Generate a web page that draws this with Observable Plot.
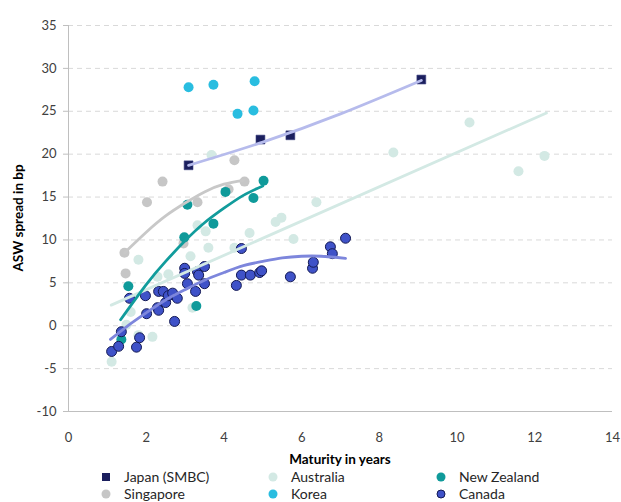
<!DOCTYPE html>
<html><head><meta charset="utf-8">
<script src="https://cdn.jsdelivr.net/npm/d3@7"></script>
<script src="https://cdn.jsdelivr.net/npm/@observablehq/plot@0.6"></script>
<style>
body{margin:0;background:#fff;font-family:Lato,sans-serif;}
#wrap{position:relative;width:621px;height:502px;overflow:hidden;}
.item{position:absolute;height:18px;line-height:18px;font-size:14px;color:#262626;white-space:nowrap;}
.item svg{position:absolute;left:0;top:4px;}
.item span{position:absolute;left:23px;top:0;}
</style></head><body>
<div id="wrap"><div id="chart"></div></div>
<script>
// ---- data ----
const seriesNames = ["Japan (SMBC)", "Singapore", "Australia", "Korea", "New Zealand", "Canada"];
const xTicks = [0, 2, 4, 6, 8, 10, 12, 14];
const yTicks = [-10, -5, 0, 5, 10, 15, 20, 25, 30, 35];

const japanX = [3.09, 4.94, 5.71, 9.08];
const japanY = [18.7, 21.7, 22.2, 28.7];

const singaporeX = [1.44, 1.47, 2.02, 2.42, 2.96, 3.32, 4.12, 4.27, 4.53];
const singaporeY = [8.5, 6.1, 14.4, 16.8, 9.6, 14.4, 15.9, 19.3, 16.8];

const australiaX = [1.11, 1.49, 1.6, 1.8, 2.16, 1.8, 2.29, 2.57, 3.14, 3.19, 3.32, 3.53, 3.6, 3.68, 4.27, 4.66, 5.33, 5.48, 5.79, 6.38, 8.36, 10.32, 11.58, 12.25];
const australiaY = [-4.2, 0.1, 1.6, -1.1, -1.3, 7.7, 5.7, 6.0, 8.1, 2.1, 11.7, 11.0, 9.1, 19.9, 9.1, 10.8, 12.1, 12.6, 10.1, 14.4, 20.2, 23.7, 18.0, 19.8];

const koreaX = [3.09, 3.73, 4.79, 4.35, 4.76];
const koreaY = [27.8, 28.1, 28.5, 24.7, 25.1];

const nzX = [1.54, 1.36, 2.98, 3.06, 3.29, 3.73, 4.04, 4.76, 5.02];
const nzY = [4.6, -1.6, 10.3, 14.1, 2.3, 11.9, 15.6, 14.9, 16.9];

const canadaX = [1.11, 1.29, 1.36, 1.75, 1.83, 1.57, 1.98, 2.01, 2.32, 2.44, 2.29, 2.32, 2.5, 2.57, 2.68, 2.8, 2.73, 2.99, 2.99, 3.06, 3.27, 3.32, 3.35, 3.5, 3.5, 4.45, 4.32, 4.45, 4.68, 4.92, 4.97, 5.71, 6.28, 6.3, 6.74, 6.79, 7.13];
const canadaY = [-3.0, -2.4, -0.7, -2.5, -1.4, 3.2, 3.5, 1.4, 4.0, 4.0, 2.1, 1.8, 2.7, 3.5, 3.8, 3.2, 0.5, 6.7, 6.1, 4.9, 4.0, 6.3, 5.9, 6.9, 4.9, 9.0, 4.7, 5.9, 5.9, 6.2, 6.4, 5.7, 6.7, 7.4, 9.2, 8.4, 10.2];

// trend lines
const japanTrendX = [3.09, 5, 7, 9.08];
const japanTrendY = [18.7, 21.4, 24.7, 28.6];
const singaporeTrendX = [1.44, 2, 2.5, 3, 3.5, 4, 4.5];
const singaporeTrendY = [8.5, 10.9, 12.8, 14.3, 15.6, 16.5, 16.95];
const australiaTrendX = [1.1, 12.3];
const australiaTrendY = [2.4, 24.8];
const nzTrendX = [1.34, 2, 2.5, 3, 3.5, 4, 4.5, 5];
const nzTrendY = [0.7, 4.8, 7.5, 9.9, 12.0, 13.7, 15.2, 16.3];
const canadaTrendX = [1.08, 1.5, 2, 2.5, 3, 3.5, 4, 4.5, 5, 5.5, 6, 6.5, 7.13];
const canadaTrendY = [-1.6, -0.1, 1.5, 3.0, 4.2, 5.3, 6.2, 7.0, 7.5, 7.9, 8.1, 8.1, 7.85];

// ---- styles ----
const colors = {
  "Japan (SMBC)": "#1b1f5e", "Singapore": "#c6c6c6", "Australia": "#d3e9e4",
  "Korea": "#29bde0", "New Zealand": "#0f9a9a", "Canada": "#3f52c8"
};
const lineColors = {
  "Japan (SMBC)": "#b6bbec", "Singapore": "#c8c8c8", "Australia": "#d3e9e4",
  "New Zealand": "#119c9c", "Canada": "#7d86dc"
};

const zip = (xs, ys) => xs.map((x, i) => ({x, y: ys[i]}));
const japan = zip(japanX, japanY), singapore = zip(singaporeX, singaporeY),
  australia = zip(australiaX, australiaY), korea = zip(koreaX, koreaY),
  nz = zip(nzX, nzY), canada = zip(canadaX, canadaY);

const lineMark = (xs, ys, name) => Plot.line(zip(xs, ys), {x: "x", y: "y", stroke: lineColors[name], strokeWidth: 2.8, curve: "natural"});

const chart = Plot.plot({
  width: 621, height: 470,
  marginLeft: 68, marginRight: 9, marginTop: 25, marginBottom: 59,
  style: {fontFamily: "Lato, sans-serif", background: "#fff"},
  x: {domain: [0, 14]},
  y: {domain: [-10, 35]},
  marks: [
    Plot.gridY(yTicks.filter(d => d > -10), {stroke: "#d9d9d9", strokeOpacity: 1, strokeDasharray: "5,4"}),
    Plot.ruleX([0], {stroke: "#bfbfbf"}),
    Plot.ruleY([-10], {stroke: "#bfbfbf"}),
    Plot.axisY({ticks: yTicks, tickSize: 5, tickPadding: 7, stroke: "#bfbfbf", fill: "#404040", fontSize: 13, label: null, tickFormat: d => String(d).replace("−", "-")}),
    Plot.axisX({ticks: xTicks, tickSize: 0, tickPadding: 21, fill: "#404040", fontSize: 13, label: null}),
    Plot.dot(australia, {x: "x", y: "y", r: 5, fill: colors["Australia"]}),
    Plot.dot(singapore, {x: "x", y: "y", r: 5, fill: colors["Singapore"]}),
    Plot.dot(korea, {x: "x", y: "y", r: 5, fill: colors["Korea"]}),
    Plot.dot(nz, {x: "x", y: "y", r: 5, fill: colors["New Zealand"]}),
    Plot.dot(canada, {x: "x", y: "y", r: 5, fill: colors["Canada"], stroke: "#141a55", strokeWidth: 1}),
    Plot.dot(japan, {x: "x", y: "y", r: 5, symbol: "square", fill: colors["Japan (SMBC)"], stroke: "#3a3f80", strokeWidth: 0.6}),
    lineMark(australiaTrendX, australiaTrendY, "Australia"),
    lineMark(singaporeTrendX, singaporeTrendY, "Singapore"),
    lineMark(nzTrendX, nzTrendY, "New Zealand"),
    lineMark(canadaTrendX, canadaTrendY, "Canada"),
    lineMark(japanTrendX, japanTrendY, "Japan (SMBC)")
  ]
});

const svg = d3.select(chart);
svg.append("text").attr("transform", "translate(20,218) rotate(-90)")
  .attr("text-anchor", "middle").attr("dominant-baseline", "middle")
  .attr("font-weight", "bold").attr("font-size", 13.5).attr("fill", "#000")
  .text("ASW spread in bp");
svg.append("text").attr("x", 340).attr("y", 461)
  .attr("text-anchor", "middle").attr("dominant-baseline", "middle")
  .attr("font-weight", "bold").attr("font-size", 13.5).attr("fill", "#000")
  .text("Maturity in years");
document.getElementById("chart").appendChild(chart);

// ---- legend ----
const legendPos = [[101, 477], [101, 494], [268, 477], [268, 494], [436, 477], [436, 494]];
const order = ["Japan (SMBC)", "Singapore", "Australia", "Korea", "New Zealand", "Canada"];
const wrap = document.getElementById("wrap");
order.forEach((name, i) => {
  const [lx, ly] = legendPos[i];
  const div = document.createElement("div");
  div.className = "item";
  div.style.left = lx + "px";
  div.style.top = (ly - 9) + "px";
  let marker;
  if (name === "Japan (SMBC)") marker = `<rect x="1" y="1" width="8" height="8" fill="${colors[name]}"/>`;
  else if (name === "Canada") marker = `<circle cx="5" cy="5" r="4" fill="${colors[name]}" stroke="#141a55" stroke-width="1"/>`;
  else marker = `<circle cx="5" cy="5" r="4.5" fill="${colors[name]}"/>`;
  div.innerHTML = `<svg width="10" height="10">${marker}</svg><span>${name}</span>`;
  wrap.appendChild(div);
});
</script>
</body></html>
